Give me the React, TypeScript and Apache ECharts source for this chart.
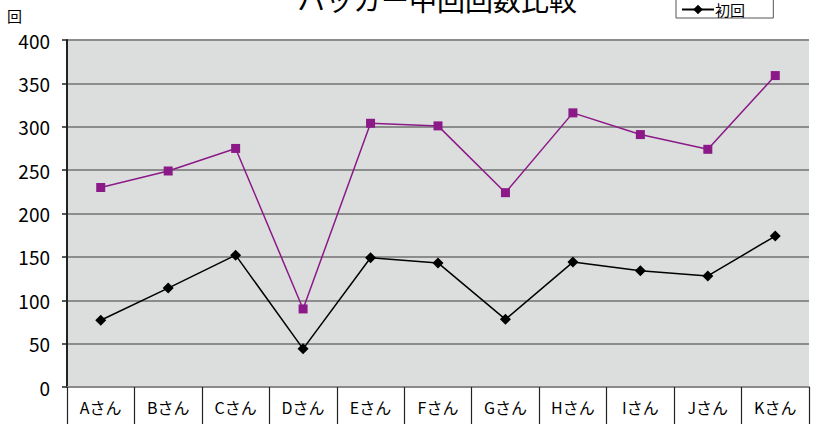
import React, { useEffect, useRef } from "react";
import * as echarts from "echarts";

const TITLE = "ハッカー中回回数比較";
const Y_UNIT = "回";
const CATEGORIES = ["Aさん", "Bさん", "Cさん", "Dさん", "Eさん", "Fさん", "Gさん", "Hさん", "Iさん", "Jさん", "Kさん"];
const SERIES_NAMES = ["2回目", "初回"];
const SECOND_VALUES = [230, 249, 275, 90, 304, 301, 224, 316, 291, 274, 359];
const FIRST_VALUES = [77, 114, 152, 44, 149, 143, 78, 144, 134, 128, 174];

const FONT = "'Noto Sans CJK JP', 'Noto Sans', sans-serif";

export default function App() {
  const ref = useRef<HTMLDivElement>(null);
  useEffect(() => {
    if (!ref.current) return;
    const chart = echarts.init(ref.current, undefined, { renderer: "svg" });
    chart.setOption({
      animation: false,
      backgroundColor: "#ffffff",
      textStyle: { fontFamily: FONT },
      title: {
        text: TITLE,
        left: 432,
        textAlign: "center",
        top: -20,
        textStyle: { fontSize: 28, fontWeight: "normal", color: "#000", fontFamily: FONT },
      },
      legend: {
        orient: "vertical",
        left: 676,
        top: -22,
        padding: [2, 20, 1, 5],
        itemGap: 7,
        itemWidth: 32,
        itemHeight: 12,
        backgroundColor: "#ffffff",
        borderColor: "#555",
        borderWidth: 1,
        borderRadius: 0,
        data: SERIES_NAMES,
        textStyle: { fontSize: 15, color: "#000", fontFamily: FONT, padding: [0, 0, 0, -4] },
      },
      grid: {
        left: 67,
        right: 4,
        top: 40,
        bottom: 43,
        show: true,
        backgroundColor: "#dcdddd",
        borderWidth: 0,
      },
      xAxis: {
        type: "category",
        data: CATEGORIES,
        boundaryGap: true,
        axisLine: { show: true, lineStyle: { color: "#8a8a8a", width: 2 } },
        axisTick: { show: true, length: 37, lineStyle: { color: "#222", width: 1.2 } },
        axisLabel: { fontSize: 16, color: "#000", margin: 12, fontFamily: FONT },
        splitLine: { show: false },
      },
      yAxis: {
        type: "value",
        min: 0,
        max: 400,
        interval: 50,
        name: Y_UNIT,
        nameLocation: "end",
        nameGap: 25,
        nameTextStyle: { fontSize: 15, color: "#000", align: "right", verticalAlign: "middle", padding: [0, 45, 0, 0], fontFamily: FONT },
        axisLine: { show: true, lineStyle: { color: "#222", width: 2 } },
        axisTick: { show: true, inside: false, length: 5, lineStyle: { color: "#222", width: 1.5 } },
        axisLabel: { fontSize: 19, color: "#000", margin: 17, fontFamily: FONT },
        splitLine: { show: true, lineStyle: { color: "#8c8c8c", width: 2 } },
      },
      series: [
        {
          name: SERIES_NAMES[0],
          type: "line",
          data: SECOND_VALUES,
          symbol: "rect",
          symbolSize: 9,
          lineStyle: { color: "#8b1a88", width: 1.5 },
          itemStyle: { color: "#8b1a88" },
        },
        {
          name: SERIES_NAMES[1],
          type: "line",
          data: FIRST_VALUES,
          symbol: "diamond",
          symbolSize: 11,
          lineStyle: { color: "#000", width: 1.5 },
          itemStyle: { color: "#000" },
        },
      ],
    });
    return () => chart.dispose();
  }, []);
  return <div ref={ref} style={{ width: 813, height: 430, position: "absolute", left: 0, top: 0 }} />;
}
